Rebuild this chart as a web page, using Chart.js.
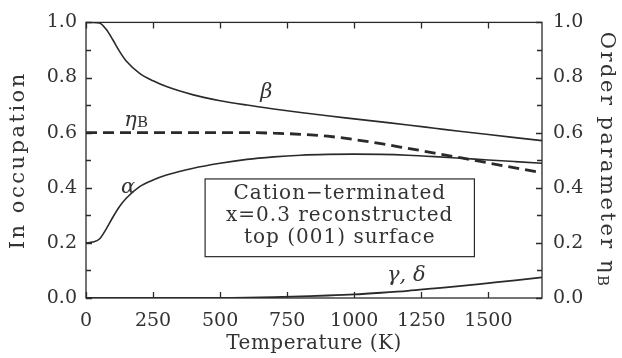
<!DOCTYPE html>
<html>
<head>
<meta charset="utf-8">
<script src="https://cdn.jsdelivr.net/npm/chart.js@4.4.1/dist/chart.umd.min.js"></script>
<style>
  html, body { margin: 0; padding: 0; background: #fff; }
  canvas { display: block; }
</style>
</head>
<body>
<canvas id="c" width="622" height="358"></canvas>
<script>
// Temperature grid (K) shared by all curves
const temperature = [0, 25, 50, 75, 100, 125, 150, 200, 250, 300, 400, 500,
                     600, 700, 800, 900, 1000, 1100, 1200, 1300, 1400, 1500, 1600, 1700];
// In occupation of the sublattices
const betaOcc  = [1.0, 1.0, 0.998, 0.975, 0.937, 0.895, 0.86, 0.815, 0.788, 0.767, 0.737, 0.716,
                  0.70, 0.686, 0.673, 0.661, 0.65, 0.639, 0.628, 0.616, 0.604, 0.593, 0.582, 0.571];
const alphaOcc = [0.2, 0.203, 0.214, 0.25, 0.293, 0.332, 0.362, 0.404, 0.428, 0.446, 0.471, 0.489,
                  0.503, 0.512, 0.518, 0.521, 0.522, 0.521, 0.518, 0.513, 0.507, 0.501, 0.495, 0.489];
const gammaDeltaOcc = [0, 0, 0, 0, 0, 0, 0, 0, 0, 0, 0, 0,
                  0.001, 0.003, 0.006, 0.009, 0.013, 0.019, 0.026, 0.035, 0.044, 0.054, 0.064, 0.075];
// Order parameter eta_B (right axis)
const etaB     = [0.6, 0.6, 0.6, 0.6, 0.6, 0.6, 0.6, 0.6, 0.6, 0.6, 0.6, 0.6,
                  0.6, 0.598, 0.594, 0.587, 0.575, 0.56, 0.543, 0.526, 0.508, 0.49, 0.472, 0.454];

// Axis ticks
const xTickValues = [0, 250, 500, 750, 1000, 1250, 1500];
const yTickValues = [0, 0.2, 0.4, 0.6, 0.8, 1.0];
const yMinorValues = [0.1, 0.3, 0.5, 0.7, 0.9];

// Text
const xTitle = 'Temperature (K)';
const yTitle = 'In occupation';
const y2Title = 'Order parameter η';
const y2TitleSub = 'B';
const boxLines = ['Cation−terminated', 'x=0.3 reconstructed', 'top (001) surface'];

const SERIF = '"DejaVu Serif", "Liberation Serif", serif';
const INK = '#2a2a2a';
const TEXT = '#333333';

const toPoints = (ys) => temperature.map((t, i) => ({ x: t, y: ys[i] }));

function setTicks(values) {
  return (scale) => { scale.ticks = values.map(v => ({ value: v })); };
}

// Draw text with a subscript part, horizontally centred on cx
function drawWithSub(ctx, main, sub, cx, cy, mainFont, subFont, subDrop, spacing) {
  ctx.letterSpacing = spacing + 'px';
  ctx.font = mainFont;
  const w1 = ctx.measureText(main).width;
  ctx.font = subFont;
  const w2 = ctx.measureText(sub).width;
  const x0 = cx - (w1 + w2) / 2;
  ctx.font = mainFont;
  ctx.textAlign = 'left';
  ctx.fillText(main, x0, cy);
  ctx.font = subFont;
  ctx.fillText(sub, x0 + w1, cy + subDrop);
}

const decor = {
  id: 'decor',
  afterDatasetsDraw(chart) {
    const { ctx, chartArea: a, scales } = chart;
    const x = scales.x, y = scales.y;
    ctx.save();
    ctx.strokeStyle = INK;
    ctx.lineWidth = 1.3;
    ctx.strokeRect(a.left, a.top, a.right - a.left, a.bottom - a.top);
    ctx.beginPath();
    xTickValues.forEach(v => {
      const px = Math.round(x.getPixelForValue(v)) + 0.5;
      ctx.moveTo(px, a.bottom); ctx.lineTo(px, a.bottom - 6);
      ctx.moveTo(px, a.top); ctx.lineTo(px, a.top + 6);
    });
    yTickValues.concat(yMinorValues).forEach(v => {
      const py = Math.round(y.getPixelForValue(v)) + 0.5;
      const len = yMinorValues.includes(v) ? 5 : 6;
      ctx.moveTo(a.left, py); ctx.lineTo(a.left + len, py);
      ctx.moveTo(a.right, py); ctx.lineTo(a.right - len, py);
    });
    ctx.stroke();
    ctx.restore();
  },
  afterDraw(chart) {
    const { ctx, chartArea: a, scales } = chart;
    const x = scales.x, y = scales.y;
    const midY = (a.top + a.bottom) / 2;
    ctx.save();
    ctx.fillStyle = TEXT;
    ctx.textBaseline = 'middle';

    // x title
    ctx.font = '20px ' + SERIF;
    ctx.letterSpacing = '0.5px';
    ctx.textAlign = 'center';
    ctx.fillText(xTitle, (a.left + a.right) / 2, 344);

    // left title
    ctx.save();
    ctx.translate(19, midY);
    ctx.rotate(-Math.PI / 2);
    ctx.font = '21px ' + SERIF;
    ctx.letterSpacing = '2.5px';
    ctx.textAlign = 'center';
    ctx.fillText(yTitle, 0, 0);
    ctx.restore();

    // right title
    ctx.save();
    ctx.translate(606, midY);
    ctx.rotate(Math.PI / 2);
    drawWithSub(ctx, y2Title, y2TitleSub, 0, 0, '21px ' + SERIF, '15px ' + SERIF, 4, 2.5);
    ctx.restore();

    // curve labels
    ctx.letterSpacing = '0px';
    ctx.textAlign = 'center';
    ctx.font = 'italic 21px ' + SERIF;
    ctx.fillText('β', x.getPixelForValue(672), y.getPixelForValue(0.745));
    ctx.fillText('α', x.getPixelForValue(157), y.getPixelForValue(0.4));
    ctx.fillText('γ, δ', x.getPixelForValue(1194), y.getPixelForValue(0.082));
    drawWithSub(ctx, 'η', 'B', x.getPixelForValue(187), y.getPixelForValue(0.643),
                'italic 21px ' + SERIF, '15px ' + SERIF, 2, 0);

    // annotation box
    const bx0 = x.getPixelForValue(444), bx1 = x.getPixelForValue(1448);
    const by0 = y.getPixelForValue(0.432), by1 = y.getPixelForValue(0.15);
    ctx.strokeStyle = INK;
    ctx.lineWidth = 1.2;
    ctx.strokeRect(bx0, by0, bx1 - bx0, by1 - by0);
    ctx.font = '20px ' + SERIF;
    ctx.letterSpacing = '1px';
    ctx.textAlign = 'center';
    const cx = (bx0 + bx1) / 2;
    boxLines.forEach((line, i) => ctx.fillText(line, cx, 194 + i * 22));
    ctx.restore();
  }
};

const tickFont = { family: SERIF, size: 19 };

new Chart(document.getElementById('c'), {
  type: 'line',
  data: {
    datasets: [
      { label: 'β', data: toPoints(betaOcc), yAxisID: 'y',
        borderColor: INK, borderWidth: 1.6, pointRadius: 0, cubicInterpolationMode: 'monotone' },
      { label: 'α', data: toPoints(alphaOcc), yAxisID: 'y',
        borderColor: INK, borderWidth: 1.6, pointRadius: 0, cubicInterpolationMode: 'monotone' },
      { label: 'γ, δ', data: toPoints(gammaDeltaOcc), yAxisID: 'y',
        borderColor: INK, borderWidth: 1.8, pointRadius: 0, cubicInterpolationMode: 'monotone' },
      { label: 'ηB', data: toPoints(etaB), yAxisID: 'y2',
        borderColor: INK, borderWidth: 2.8, borderDash: [11, 6], pointRadius: 0,
        cubicInterpolationMode: 'monotone' }
    ]
  },
  options: {
    responsive: false,
    animation: false,
    devicePixelRatio: 1,
    layout: { padding: { top: 18, left: 0, right: 0, bottom: 0 } },
    plugins: { legend: { display: false }, tooltip: { enabled: false } },
    scales: {
      x: {
        type: 'linear', position: 'bottom', min: 0, max: 1700,
        afterBuildTicks: setTicks(xTickValues),
        afterFit: (s) => { s.height = 60; },
        grid: { display: false, drawTicks: false },
        border: { display: false },
        ticks: { color: TEXT, padding: 12, maxRotation: 0, autoSkip: false,
                 callback: (v) => String(v), font: tickFont }
      },
      y: {
        type: 'linear', position: 'left', min: 0, max: 1,
        afterBuildTicks: setTicks(yTickValues),
        afterFit: (s) => { s.width = 86; },
        grid: { display: false, drawTicks: false },
        border: { display: false },
        ticks: { color: TEXT, padding: 9, callback: (v) => v.toFixed(1), font: tickFont }
      },
      y2: {
        type: 'linear', position: 'right', min: 0, max: 1,
        afterBuildTicks: setTicks(yTickValues),
        afterFit: (s) => { s.width = 80; },
        grid: { display: false, drawTicks: false },
        border: { display: false },
        ticks: { color: TEXT, padding: 11, callback: (v) => v.toFixed(1), font: tickFont }
      }
    }
  },
  plugins: [decor]
});
</script>
</body>
</html>
